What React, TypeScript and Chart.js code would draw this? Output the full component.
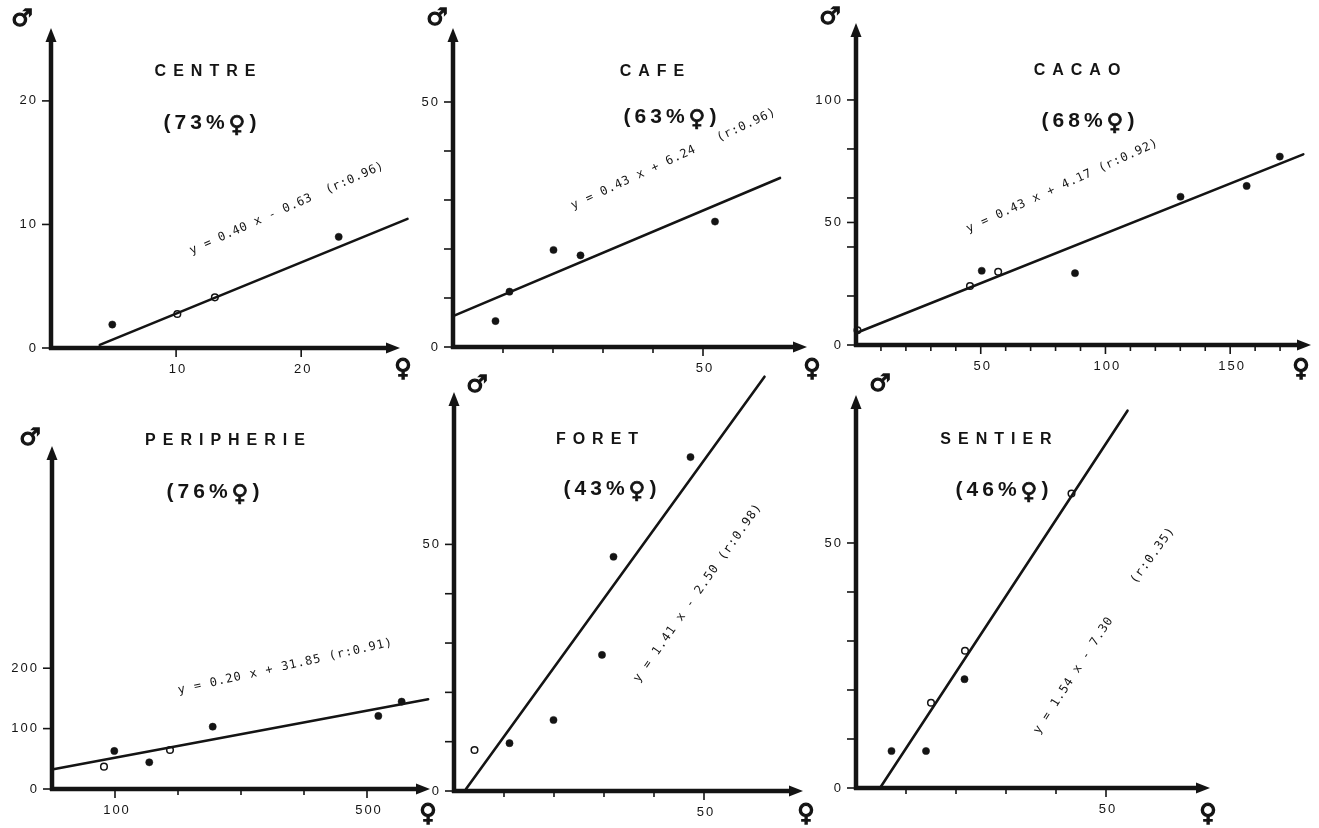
import React, { useEffect, useRef } from "react";
import { Chart, registerables } from "chart.js";

Chart.register(...registerables);

const INK = "#141414";
const PAGE_W = 1319;
const PAGE_H = 828;

// ---------------- data ----------------
const panelNames = ["CENTRE", "CAFE", "CACAO", "PERIPHERIE", "FORET", "SENTIER"];
const femaleShare = [73, 63, 68, 76, 43, 46];
const equationTexts = [
  ["y = 0.40 x - 0.63  (r:0.96)"],
  ["y = 0.43 x + 6.24   (r:0.96)"],
  ["y = 0.43 x + 4.17 (r:0.92)"],
  ["y = 0.20 x + 31.85 (r:0.91)"],
  ["y = 1.41 x - 2.50 (r:0.98)"],
  ["y = 1.54 x - 7.30", "(r:0.35)"],
];

// CENTRE
const centreSolid = [[4.9, 1.9], [23.0, 9.0]];
const centreOpen = [[10.1, 2.75], [13.1, 4.1]];
const centreFit = [[3.9, 0.25], [28.5, 10.45]];
const centreXTicks = [10, 20];
const centreXLabels = [10, 20];
const centreYTicks = [0, 10, 20];
const centreYLabels = [0, 10, 20];

// CAFE
const cafeSolid = [[8.5, 5.3], [11.3, 11.3], [20.1, 19.8], [25.5, 18.7], [52.4, 25.6]];
const cafeOpen: number[][] = [];
const cafeFit = [[0, 6.3], [65.4, 34.5]];
const cafeXTicks = [10, 20, 30, 40, 50];
const cafeXLabels = [50];
const cafeYTicks = [0, 10, 20, 30, 40, 50];
const cafeYLabels = [0, 50];

// CACAO
const cacaoSolid = [[50.4, 30.3], [87.8, 29.3], [130.1, 60.5], [156.6, 64.9], [169.9, 76.9]];
const cacaoOpen = [[45.7, 24.1], [57.0, 29.9], [0.6, 6.0]];
const cacaoFit = [[0.3, 5.0], [179.3, 77.8]];
const cacaoXTicks = [10, 20, 30, 40, 50, 60, 70, 80, 90, 100, 110, 120, 130, 140, 150, 160, 170];
const cacaoXLabels = [50, 100, 150];
const cacaoYTicks = [0, 20, 40, 50, 60, 80, 100];
const cacaoYLabels = [0, 50, 100];

// PERIPHERIE
const periphSolid = [[98.9, 63], [154.4, 44.2], [255.1, 103.2], [518, 121], [555, 144.7]];
const periphOpen = [[82.5, 37], [187.3, 64.6]];
const periphFit = [[2, 32.6], [597, 148.6]];
const periphXTicks = [100, 200, 300, 400, 500];
const periphXLabels = [100, 500];
const periphYTicks = [0, 100, 200];
const periphYLabels = [0, 100, 200];

// FORET
const foretSolid = [[11.1, 9.7], [19.9, 14.4], [29.6, 27.6], [31.9, 47.5], [47.3, 67.7]];
const foretOpen = [[4.1, 8.3]];
const foretFit = [[2.4, 0.4], [62.1, 84.0]];
const foretXTicks = [10, 20, 30, 40, 50];
const foretXLabels = [50];
const foretYTicks = [0, 10, 20, 30, 40, 50];
const foretYLabels = [0, 50];

// SENTIER
const sentierSolid = [[7.1, 7.55], [14.0, 7.55], [21.7, 22.2]];
const sentierOpen = [[15.0, 17.4], [21.8, 28.0], [43.1, 60.1]];
const sentierFit = [[4.8, 0], [54.3, 77.0]];
const sentierXTicks = [10, 20, 30, 40, 50];
const sentierXLabels = [50];
const sentierYTicks = [0, 10, 20, 30, 40, 50];
const sentierYLabels = [0, 50];

// ---------------- layout (page pixels) ----------------
type EqPos = { at: number[]; angle: number; len: number };
type Layout = {
  area: number[]; // left, top, right, bottom
  xMax: number;
  yMax: number;
  title: number[];
  pct: number[];
  eq: EqPos[];
  male: number[];
  female: number[];
};

const layouts: Layout[] = [
  { area: [51, 28, 400, 348], xMax: 27.9, yMax: 25.9, title: [205, 72], pct: [210, 121],
    eq: [{ at: [286.5, 208.5], angle: -24, len: 211 }], male: [22, 20], female: [403, 370] },
  { area: [453, 28, 807, 347], xMax: 70.8, yMax: 65.1, title: [652, 72], pct: [670, 115],
    eq: [{ at: [673.3, 159.2], angle: -25, len: 224 }], male: [437, 19], female: [812, 370] },
  { area: [856, 23, 1311, 345], xMax: 182.4, yMax: 131.4, title: [1077, 71], pct: [1088, 119],
    eq: [{ at: [1062, 186.2], angle: -24.6, len: 209 }], male: [830, 18], female: [1301, 370] },
  { area: [52, 446, 430, 789], xMax: 600, yMax: 568, title: [225, 441], pct: [213, 490],
    eq: [{ at: [285, 666.7], angle: -12.7, len: 219 }], male: [30, 439], female: [428, 815] },
  { area: [454, 392, 803, 791], xMax: 69.8, yMax: 80.9, title: [597, 440], pct: [610, 487],
    eq: [{ at: [697.5, 593.3], angle: -55.1, len: 214 }], male: [477, 386], female: [806, 815] },
  { area: [856, 395, 1210, 788], xMax: 70.8, yMax: 80.2, title: [996, 440], pct: [1002, 488],
    eq: [
      { at: [1073.3, 675.8], angle: -57.1, len: 136 },
      { at: [1152.5, 555.8], angle: -54.1, len: 66 },
    ], male: [880, 385], female: [1208, 815] },
];

const panelSeries = [
  { solid: centreSolid, open: centreOpen, fit: centreFit, xTicks: centreXTicks, xLabels: centreXLabels, yTicks: centreYTicks, yLabels: centreYLabels },
  { solid: cafeSolid, open: cafeOpen, fit: cafeFit, xTicks: cafeXTicks, xLabels: cafeXLabels, yTicks: cafeYTicks, yLabels: cafeYLabels },
  { solid: cacaoSolid, open: cacaoOpen, fit: cacaoFit, xTicks: cacaoXTicks, xLabels: cacaoXLabels, yTicks: cacaoYTicks, yLabels: cacaoYLabels },
  { solid: periphSolid, open: periphOpen, fit: periphFit, xTicks: periphXTicks, xLabels: periphXLabels, yTicks: periphYTicks, yLabels: periphYLabels },
  { solid: foretSolid, open: foretOpen, fit: foretFit, xTicks: foretXTicks, xLabels: foretXLabels, yTicks: foretYTicks, yLabels: foretYLabels },
  { solid: sentierSolid, open: sentierOpen, fit: sentierFit, xTicks: sentierXTicks, xLabels: sentierXLabels, yTicks: sentierYTicks, yLabels: sentierYLabels },
];

const toXY = (arr: number[][]) => arr.map(([x, y]) => ({ x, y }));

const SANS = '"Liberation Sans", Arial, sans-serif';
const SYMBOL_FONT = '"DejaVu Sans", sans-serif';

function setSpacing(ctx: any, px: number) {
  ctx.letterSpacing = px + "px";
}

function spacedText(ctx: any, text: string, x: number, y: number, spacing: number, align: CanvasTextAlign) {
  setSpacing(ctx, spacing);
  ctx.textAlign = align;
  let dx = 0;
  if (align === "center") dx = spacing / 2;
  if (align === "right") dx = spacing;
  ctx.fillText(text, x + dx, y);
  setSpacing(ctx, 0);
}

function boldGlyph(ctx: any, ch: string, x: number, y: number, size: number) {
  ctx.font = "bold " + size + "px " + SYMBOL_FONT;
  ctx.textAlign = "center";
  ctx.textBaseline = "middle";
  ctx.lineWidth = 1.3;
  ctx.strokeStyle = INK;
  ctx.fillText(ch, x, y);
  ctx.strokeText(ch, x, y);
}

function drawShare(ctx: any, pct: number, cx: number, cy: number) {
  const parts = [
    { t: "(" + pct + "%", font: "bold 21px " + SANS, sp: 4, dy: 0 },
    { t: "\u2640", font: "bold 23px " + SYMBOL_FONT, sp: 4, dy: 3 },
    { t: ")", font: "bold 21px " + SANS, sp: 0, dy: 0 },
  ];
  ctx.textAlign = "left";
  ctx.textBaseline = "alphabetic";
  const widths = parts.map((p) => {
    ctx.font = p.font;
    setSpacing(ctx, p.sp);
    const w = ctx.measureText(p.t).width;
    setSpacing(ctx, 0);
    return w;
  });
  const total = widths.reduce((a, b) => a + b, 0);
  let x = cx - total / 2;
  const base = cy + 7.5;
  parts.forEach((p, i) => {
    ctx.font = p.font;
    setSpacing(ctx, p.sp);
    ctx.fillText(p.t, x, base + p.dy);
    if (i === 1) {
      ctx.lineWidth = 0.8;
      ctx.strokeText(p.t, x, base + p.dy);
    }
    setSpacing(ctx, 0);
    x += widths[i];
  });
}

function rotatedFitText(ctx: any, text: string, pos: EqPos) {
  ctx.save();
  ctx.translate(pos.at[0], pos.at[1]);
  ctx.rotate((pos.angle * Math.PI) / 180);
  ctx.font = '12px "DejaVu Sans Mono", "Liberation Mono", monospace';
  setSpacing(ctx, 0);
  const w = ctx.measureText(text).width;
  const n = Array.from(text).length;
  const sp = Math.max(0, (pos.len - w) / Math.max(1, n - 1));
  ctx.textBaseline = "middle";
  spacedText(ctx, text, 0, 0, sp, "center");
  ctx.restore();
}

function makeDecor(idx: number) {
  const s = panelSeries[idx];
  const lay = layouts[idx];
  return {
    id: "decor" + idx,
    beforeDatasetsDraw(chart: any) {
      const ctx = chart.ctx;
      const xs = chart.scales.x;
      const ys = chart.scales.y;
      const ox = xs.getPixelForValue(0);
      const oy = ys.getPixelForValue(0);
      const xTip = xs.getPixelForValue(xs.max);
      const yTip = ys.getPixelForValue(ys.max);
      ctx.save();
      ctx.fillStyle = INK;
      ctx.strokeStyle = INK;
      // axes
      ctx.lineWidth = 4.5;
      ctx.lineCap = "butt";
      ctx.beginPath();
      ctx.moveTo(ox, oy + 2);
      ctx.lineTo(ox, yTip + 10);
      ctx.stroke();
      ctx.beginPath();
      ctx.moveTo(ox - 2, oy);
      ctx.lineTo(xTip - 10, oy);
      ctx.stroke();
      // arrow heads
      ctx.beginPath();
      ctx.moveTo(ox, yTip);
      ctx.lineTo(ox - 5.5, yTip + 14);
      ctx.lineTo(ox + 5.5, yTip + 14);
      ctx.closePath();
      ctx.fill();
      ctx.beginPath();
      ctx.moveTo(xTip, oy);
      ctx.lineTo(xTip - 14, oy - 5.5);
      ctx.lineTo(xTip - 14, oy + 5.5);
      ctx.closePath();
      ctx.fill();
      // ticks
      ctx.lineWidth = 1.6;
      s.yTicks.forEach((v) => {
        const py = ys.getPixelForValue(v);
        ctx.beginPath();
        ctx.moveTo(ox - 9, py);
        ctx.lineTo(ox, py);
        ctx.stroke();
      });
      s.xTicks.forEach((v) => {
        const px = xs.getPixelForValue(v);
        const len = s.xLabels.includes(v) ? 9 : 6;
        ctx.beginPath();
        ctx.moveTo(px, oy);
        ctx.lineTo(px, oy + len);
        ctx.stroke();
      });
      // tick labels
      ctx.font = "13px " + SANS;
      ctx.textBaseline = "middle";
      s.yLabels.forEach((v) => {
        const py = ys.getPixelForValue(v);
        spacedText(ctx, String(v), ox - 15, py, 2, "right");
      });
      s.xLabels.forEach((v) => {
        const px = xs.getPixelForValue(v);
        spacedText(ctx, String(v), px + 1, oy + 21, 2, "center");
      });
      ctx.restore();
    },
    afterDraw(chart: any) {
      const ctx = chart.ctx;
      ctx.save();
      ctx.fillStyle = INK;
      ctx.strokeStyle = INK;
      ctx.textBaseline = "middle";
      // title
      ctx.font = "bold 16px " + SANS;
      spacedText(ctx, panelNames[idx], lay.title[0], lay.title[1], 7, "center");
      drawShare(ctx, femaleShare[idx], lay.pct[0], lay.pct[1]);
      // sex symbols at the axis ends
      boldGlyph(ctx, "\u2642", lay.male[0], lay.male[1], 24);
      boldGlyph(ctx, "\u2640", lay.female[0], lay.female[1], 24);
      // equations
      ctx.fillStyle = INK;
      equationTexts[idx].forEach((t, k) => rotatedFitText(ctx, t, lay.eq[k]));
      ctx.restore();
    },
  };
}

function Panel({ idx }: { idx: number }) {
  const ref = useRef<HTMLCanvasElement | null>(null);
  useEffect(() => {
    const s = panelSeries[idx];
    const lay = layouts[idx];
    const [L, T, R, B] = lay.area;
    const chart = new Chart(ref.current as HTMLCanvasElement, {
      type: "scatter",
      data: {
        datasets: [
          {
            data: toXY(s.solid),
            pointRadius: 3.6,
            pointBackgroundColor: INK,
            pointBorderColor: INK,
            pointBorderWidth: 0.5,
            showLine: false,
            clip: false,
          } as any,
          {
            data: toXY(s.open),
            pointRadius: 3.3,
            pointBackgroundColor: "rgba(255,255,255,0)",
            pointBorderColor: INK,
            pointBorderWidth: 1.5,
            showLine: false,
            clip: false,
          } as any,
          {
            data: toXY(s.fit),
            showLine: true,
            borderColor: INK,
            borderWidth: 2.6,
            pointRadius: 0,
            fill: false,
            borderCapStyle: "round",
            clip: false,
          } as any,
        ],
      },
      options: {
        responsive: false,
        animation: false,
        devicePixelRatio: 1,
        events: [],
        layout: {
          autoPadding: false,
          padding: { left: L, top: T, right: PAGE_W - R, bottom: PAGE_H - B },
        },
        scales: {
          x: { type: "linear", min: 0, max: lay.xMax, bounds: "data", display: false },
          y: { type: "linear", min: 0, max: lay.yMax, bounds: "data", display: false },
        },
        plugins: {
          legend: { display: false },
          tooltip: { enabled: false },
          title: { display: false },
        },
      } as any,
      plugins: [makeDecor(idx)],
    });
    return () => chart.destroy();
  }, [idx]);
  return (
    <canvas
      ref={ref}
      width={PAGE_W}
      height={PAGE_H}
      style={{ position: "absolute", left: 0, top: 0, width: PAGE_W, height: PAGE_H }}
    />
  );
}

export default function App() {
  return (
    <div
      style={{
        position: "fixed",
        left: 0,
        top: 0,
        width: PAGE_W,
        height: PAGE_H,
        background: "#ffffff",
        overflow: "hidden",
      }}
    >
      {panelNames.map((_, i) => (
        <Panel key={i} idx={i} />
      ))}
    </div>
  );
}
